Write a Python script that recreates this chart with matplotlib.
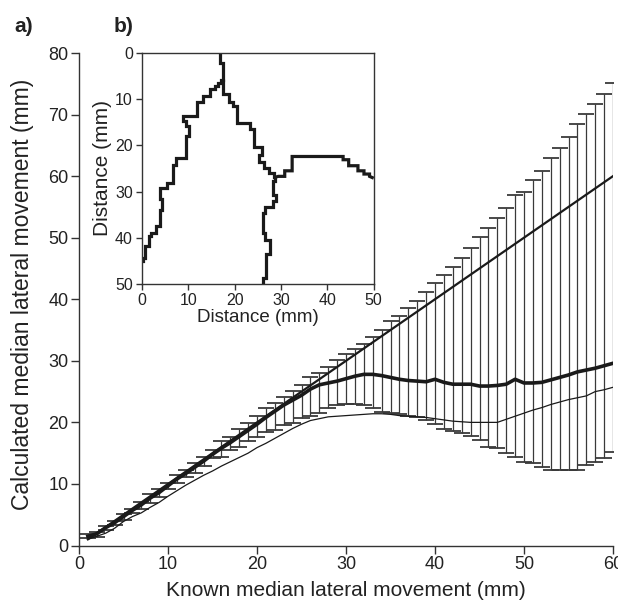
import numpy as np
import matplotlib
matplotlib.use("Agg")
import matplotlib.pyplot as plt

plt.rcParams['font.family'] = ['Liberation Sans', 'DejaVu Sans']

# ---------------- data (main panel a) ----------------
known = list(range(1, 61))

calc_median = [1.5, 1.9, 2.9, 3.7, 4.7, 5.7, 6.6, 7.7, 8.6, 9.7,
               10.8, 11.7, 12.7, 13.7, 14.8, 15.8, 16.7, 17.7, 18.7, 19.7,
               20.8, 21.8, 22.8, 23.6, 24.4, 25.4, 26.1, 26.4, 26.7, 27.1,
               27.5, 27.8, 27.8, 27.6, 27.3, 27.0, 26.8, 26.7, 26.6, 27.0,
               26.5, 26.2, 26.2, 26.2, 25.9, 25.9, 26.0, 26.2, 27.0, 26.4,
               26.4, 26.5, 26.9, 27.3, 27.7, 28.2, 28.5, 28.8, 29.2, 29.6]

calc_thin = [1.0, 1.5, 2.0, 2.8, 3.9, 4.7, 5.3, 6.2, 7.0, 8.0,
             8.9, 9.8, 10.6, 11.4, 12.1, 12.9, 13.6, 14.3, 15.0, 15.9,
             16.6, 17.4, 18.2, 19.0, 19.7, 20.3, 20.6, 20.9, 21.0, 21.1,
             21.2, 21.3, 21.4, 21.4, 21.3, 21.1, 21.0, 20.9, 20.8, 20.6,
             20.4, 20.2, 20.1, 20.0, 20.0, 20.0, 20.0, 20.5, 21.0, 21.5,
             22.0, 22.4, 22.9, 23.3, 23.7, 24.0, 24.3, 25.0, 25.3, 25.7]

err_upper = [1.8, 2.2, 3.2, 4.0, 5.1, 6.0, 7.0, 8.3, 9.1, 10.2,
             11.5, 12.3, 13.4, 14.4, 15.5, 16.9, 17.7, 18.9, 19.9, 21.0,
             22.3, 23.2, 24.2, 25.1, 26.1, 27.3, 28.1, 29.0, 30.1, 31.1,
             31.9, 32.7, 33.9, 35.0, 36.4, 37.2, 38.5, 39.7, 41.1, 42.6,
             43.9, 45.3, 46.7, 48.4, 50.1, 51.5, 53.2, 54.8, 56.9, 57.4,
             59.4, 60.9, 62.9, 64.6, 66.3, 68.4, 70.1, 71.7, 73.3, 75.2]

err_lower = [1.2, 1.4, 2.5, 3.3, 4.1, 5.3, 6.0, 6.9, 7.9, 9.1,
             10.1, 11.1, 11.8, 12.9, 14.2, 14.4, 15.5, 16.0, 16.9, 17.6,
             18.5, 18.7, 19.6, 19.9, 20.7, 21.1, 21.6, 22.4, 22.8, 23.0,
             23.0, 22.8, 22.4, 21.7, 21.6, 21.4, 21.0, 20.8, 20.4, 19.8,
             19.0, 18.6, 18.2, 17.8, 17.2, 16.0, 15.8, 15.0, 14.3, 13.6,
             13.4, 12.8, 12.3, 12.3, 12.3, 12.3, 13.1, 13.6, 14.2, 15.2]

identity_x = [1, 60]
identity_y = [1, 60]

x_ticks = [0, 10, 20, 30, 40, 50, 60]
y_ticks = [0, 10, 20, 30, 40, 50, 60, 70, 80]

# ---------------- data (inset panel b: crack paths) ----------------
trunk_x = [16.8, 16.8, 17.5, 17.5]
trunk_y = [0.0, 2.2, 2.2, 6.1]

left_x = [17.5, 17.5, 17.0, 17.0, 16.4, 16.4, 15.7, 15.7, 14.6, 14.6, 13.2, 13.2, 11.9, 11.9, 8.8, 8.8,
          9.6, 9.6, 10.1, 10.1, 9.6, 9.6, 7.4, 7.4, 6.7, 6.7, 5.3, 5.3, 3.8, 3.8,
          4.3, 4.3, 3.8, 3.8, 3.1, 3.1, 2.0, 2.0, 1.5, 1.5, 0.7, 0.7, 0.2, 0.2, 0.0]
left_y = [5.6, 5.9, 5.9, 6.5, 6.5, 7.2, 7.2, 7.9, 7.9, 9.4, 9.4, 10.5, 10.5, 13.7, 13.7, 14.8,
          14.8, 15.9, 15.9, 18.0, 18.0, 22.7, 22.7, 24.2, 24.2, 28.1, 28.1, 29.2, 29.2, 31.7,
          31.7, 33.9, 33.9, 37.5, 37.5, 39.0, 39.0, 39.7, 39.7, 41.8, 41.8, 44.4, 44.4, 45.1, 45.1]

right_x = [17.5, 17.5, 18.7, 18.7, 19.6, 19.6, 20.6, 20.6, 23.2, 23.2, 24.2, 24.2,
           26.0, 26.0, 25.2, 25.2, 26.3, 26.3, 27.4, 27.4, 28.4, 28.4, 28.7]
right_y = [6.1, 8.9, 8.9, 10.6, 10.6, 11.5, 11.5, 15.2, 15.2, 16.4, 16.4, 20.4,
           20.4, 22.0, 22.0, 23.6, 23.6, 24.8, 24.8, 25.9, 25.9, 26.9, 26.9]

down_x = [28.7, 28.7, 28.3, 28.3, 29.0, 29.0, 28.3, 28.3, 26.6, 26.6, 26.1, 26.1,
          26.6, 26.6, 27.6, 27.6, 26.8, 26.8, 26.1, 26.1]
down_y = [26.9, 27.8, 27.8, 30.7, 30.7, 32.0, 32.0, 33.4, 33.4, 34.6, 34.6, 39.0,
          39.0, 40.4, 40.4, 43.5, 43.5, 48.6, 48.6, 50.0]

east_x = [28.7, 29.4, 30.8, 30.8, 32.4, 32.4, 43.4, 43.4, 44.6, 44.6, 46.6, 46.6,
          47.9, 47.9, 49.1, 49.1, 50.0]
east_y = [26.9, 26.7, 26.7, 25.5, 25.5, 22.4, 22.4, 23.1, 23.1, 24.4, 24.4, 25.5,
          25.5, 26.2, 26.2, 26.7, 27.1]

inset_ticks = [0, 10, 20, 30, 40, 50]

# ---------------- figure ----------------
W, H = 618, 606
fig = plt.figure(figsize=(W / 100, H / 100), dpi=100)
ax = fig.add_axes([79 / W, 1 - 545.5 / H, (613 - 79) / W, (545.5 - 53) / H])

dark = '#1a1a1a'
axis_col = '#333333'
txt_col = '#222222'

med = np.array(calc_median)
lo = np.clip(med - np.array(err_lower), 0, None)
hi = np.clip(np.array(err_upper) - med, 0, None)

ax.errorbar(known, med, yerr=[lo, hi], fmt='none', ecolor='#3a3a3a',
            elinewidth=0.9, capsize=6, capthick=1.3, zorder=2)
ax.plot(identity_x, identity_y, color=dark, lw=1.6, zorder=3)
ax.plot(known, calc_thin, color=dark, lw=0.9, zorder=3)
ax.plot(known, calc_median, color=dark, lw=2.6, zorder=4)

ax.set_xlim(0, 60)
ax.set_ylim(0, 80)
ax.set_xticks(x_ticks)
ax.set_yticks(y_ticks)
for s in ['top', 'right']:
    ax.spines[s].set_visible(False)
for s in ['left', 'bottom']:
    ax.spines[s].set_color(axis_col)
    ax.spines[s].set_linewidth(1.0)
ax.tick_params(direction='out', length=5.5, width=1.0, color=axis_col,
               labelsize=13, pad=2, labelcolor=txt_col)
ax.set_xlabel('Known median lateral movement (mm)', fontsize=15, color=txt_col)
ax.set_ylabel('Calculated median lateral movement (mm)', fontsize=16.5, color=txt_col)
ax.xaxis.set_label_coords(0.5, -0.072)
ax.yaxis.set_label_coords(-0.084, 0.51)

# ---------------- inset ----------------
axi = fig.add_axes([142 / W, 1 - 284 / H, (373.7 - 142) / W, (284 - 53) / H])
axi.set_facecolor('white')
for px, py in [(trunk_x, trunk_y), (left_x, left_y), (right_x, right_y),
               (down_x, down_y), (east_x, east_y)]:
    axi.plot(px, py, color=dark, lw=2.3, solid_joinstyle='miter',
             solid_capstyle='butt')
axi.set_xlim(0, 50)
axi.set_ylim(50, 0)
axi.set_xticks(inset_ticks)
axi.set_yticks(inset_ticks)
for s in axi.spines.values():
    s.set_color(axis_col)
    s.set_linewidth(1.0)
axi.tick_params(direction='out', length=4.5, width=1.0, color=axis_col,
                labelsize=11.5, pad=2, labelcolor=txt_col)
axi.set_xlabel('Distance (mm)', fontsize=13.5, color=txt_col, labelpad=1)
axi.set_ylabel('Distance (mm)', fontsize=15, color=txt_col, labelpad=2)

fig.text(14 / W, 1 - 27 / H, 'a)', fontsize=15, fontweight='bold', va='center', ha='left', color=txt_col)
fig.text(114 / W, 1 - 27 / H, 'b)', fontsize=15, fontweight='bold', va='center', ha='left', color=txt_col)

fig.savefig('out.png', dpi=100)
